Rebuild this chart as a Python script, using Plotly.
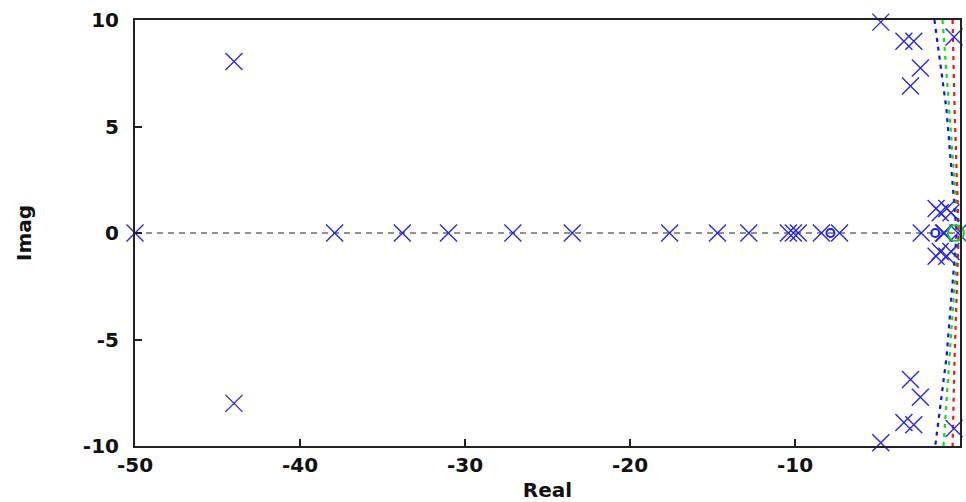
import plotly.graph_objects as go

# ---- data ----
pole_re = [-50.0, -37.9, -33.8, -31.0, -27.1, -23.5, -17.6, -14.7, -12.8,
           -10.4, -10.1, -9.8, -8.4, -7.3, -2.35, -1.0, -0.95, -0.12,
           -44.0, -44.0, -4.8, -4.8, -3.4, -3.4, -2.8, -2.8, -0.36, -0.36,
           -2.4, -2.4, -3.0, -3.0,
           -1.45, -1.45, -0.8, -0.8, -1.2, -1.2, -0.55, -0.55]
pole_im = [0, 0, 0, 0, 0, 0, 0, 0, 0,
           0, 0, 0, 0, 0, 0, 0, 0, 0,
           8.05, -8.0, 9.9, -9.85, 9.0, -8.9, 9.0, -9.0, 9.2, -9.18,
           7.75, -7.71, 6.9, -6.88,
           1.15, -1.09, 1.15, -1.09, 0.95, -0.87, 0.95, -0.87]

zero_blue_re = [-7.85, -1.5]
zero_blue_im = [0, 0]
zero_green_re = [-0.25]
zero_green_im = [0]

axis_re = [-50, 0]
axis_im = [0, 0]

blue_line_re = [-1.55, -0.82, -0.2, -0.82, -1.5]
blue_line_im = [10, 5.8, 0, -5.85, -10]
green_line_re = [-1.06, -0.64, -0.1, -0.64, -1.0]
green_line_im = [10, 5.8, 0, -5.85, -10]
red_line_re = [-0.45, -0.33, -0.08, -0.33, -0.45]
red_line_im = [10, 5.8, 0, -5.85, -10]

x_ticks = [-50, -40, -30, -20, -10, 0]
x_labels = ["-50", "-40", "-30", "-20", "-10", "0"]
y_ticks = [-10, -5, 0, 5, 10]
y_labels = ["-10", "-5", "0", "5", "10"]

fig = go.Figure()

fig.add_trace(go.Scatter(x=axis_re, y=axis_im, mode="lines",
                         line=dict(color="#222222", width=1, dash="6px,5px"),
                         hoverinfo="skip", showlegend=False))

for xs, ys, col in [(blue_line_re, blue_line_im, "#1010ff"),
                    (green_line_re, green_line_im, "#10e010"),
                    (red_line_re, red_line_im, "#ff1010")]:
    fig.add_trace(go.Scatter(x=xs, y=ys, mode="lines",
                             line=dict(color=col, width=2.2, dash="4px,5px"),
                             hoverinfo="skip", showlegend=False))

fig.add_trace(go.Scatter(x=pole_re, y=pole_im, mode="markers",
                         marker=dict(symbol="x-thin", size=17, color="#2020ff",
                                     line=dict(color="#2020ff", width=1.3)),
                         cliponaxis=False, showlegend=False))

fig.add_trace(go.Scatter(x=zero_blue_re, y=zero_blue_im, mode="markers",
                         marker=dict(symbol="circle-open", size=8, color="#2020ff",
                                     line=dict(color="#2020ff", width=2)),
                         cliponaxis=False, showlegend=False))

fig.add_trace(go.Scatter(x=zero_green_re, y=zero_green_im, mode="markers",
                         marker=dict(symbol="circle-open", size=16, color="#10d010",
                                     line=dict(color="#10d010", width=2)),
                         cliponaxis=False, showlegend=False))

tfont = dict(family="DejaVu Sans", size=20, color="#111111", weight="bold")

fig.update_layout(
    width=966, height=502,
    margin=dict(l=135, r=6, t=20, b=56),
    paper_bgcolor="white", plot_bgcolor="white",
    font=tfont,
    xaxis=dict(range=[-50, 0], tickvals=x_ticks, ticktext=x_labels,
               ticks="inside", ticklen=7, tickcolor="#222222", tickwidth=1.5,
               showline=True, linecolor="#222222", linewidth=2, mirror=True,
               showgrid=False, zeroline=False, ticklabelstandoff=0,
               automargin=False, tickfont=tfont,
               title=dict(text="Real", standoff=8, font=tfont)),
    yaxis=dict(range=[-10, 10], tickvals=y_ticks, ticktext=y_labels,
               ticks="inside", ticklen=7, tickcolor="#222222", tickwidth=1.5,
               showline=True, linecolor="#222222", linewidth=2, mirror=True,
               showgrid=False, zeroline=False, ticklabelstandoff=10,
               automargin=False, tickfont=tfont,
               title=dict(text="Imag", standoff=46, font=tfont)),
)

fig.write_html("out.html")
